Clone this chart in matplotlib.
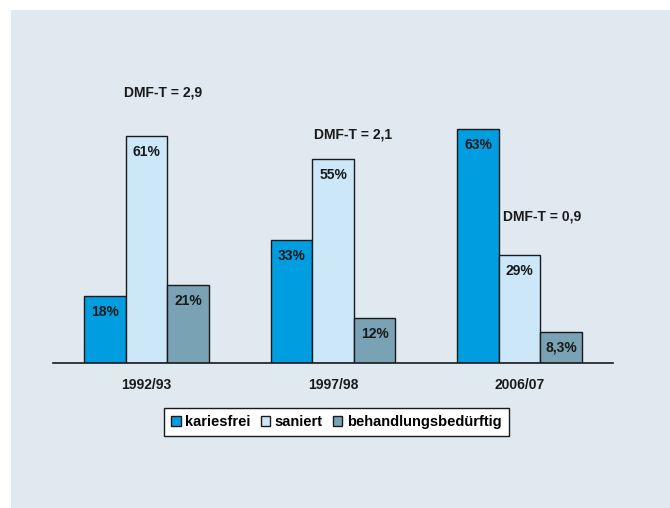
import numpy as np
import matplotlib
matplotlib.use("Agg")
import matplotlib.pyplot as plt
from matplotlib.patches import Rectangle

plt.rcParams["font.family"] = ["Liberation Sans", "DejaVu Sans"]
plt.rcParams["font.weight"] = "bold"

periods = ["1992/93", "1997/98", "2006/07"]
series = ["kariesfrei", "saniert", "behandlungsbedürftig"]
kariesfrei = [18, 33, 63]
saniert = [61, 55, 29]
behandlung = [21, 12, 8.3]
bar_labels = [["18%", "33%", "63%"], ["61%", "55%", "29%"], ["21%", "12%", "8,3%"]]
dmft = ["DMF-T = 2,9", "DMF-T = 2,1", "DMF-T = 0,9"]
# annotation anchor points in data coords (x: category axis, y: percent)
dmft_x = [0.09, 1.11, 2.12]
dmft_y = [72.8, 61.6, 39.4]

colors = ["#009EE0", "#CCE8F8", "#7AA2B5"]
bg = "#E0E8F0"

W, H = 670, 508
fig = plt.figure(figsize=(W / 100, H / 100), dpi=100)
fig.patches.append(Rectangle((11 / W, 0), 1 - 11 / W, 1 - 10 / H, transform=fig.transFigure,
                             facecolor=bg, edgecolor="none", zorder=-1))

ax = fig.add_axes([53 / W, (H - 362.7) / H, 560 / W, 259.7 / H])
ax.set_facecolor("none")

x = np.arange(len(periods))
bw = 0.223
for i, (vals, c) in enumerate(zip([kariesfrei, saniert, behandlung], colors)):
    xs = x + (i - 1) * bw
    ax.bar(xs, vals, width=bw, color=c, edgecolor="#1a1a1a", linewidth=1.0,
           label=series[i], zorder=2)
    for xv, v, lab in zip(xs, vals, bar_labels[i]):
        ax.annotate(lab, (xv, v), xytext=(0, -16), textcoords="offset pixels",
                    ha="center", va="center", fontsize=10, fontweight="bold",
                    color="#1a1a1a", zorder=3)

for dx, dy, t in zip(dmft_x, dmft_y, dmft):
    ax.text(dx, dy, t, ha="center", va="center", fontsize=10,
            fontweight="bold", color="#1a1a1a", clip_on=False)

ax.set_xlim(-0.5, 2.5)
ax.set_ylim(0, 70)
for s in ["top", "left", "right"]:
    ax.spines[s].set_visible(False)
ax.spines["bottom"].set_color("#1a1a1a")
ax.spines["bottom"].set_linewidth(1.2)
ax.set_yticks([])
ax.set_xticks(x)
ax.set_xticklabels(periods, fontsize=10, fontweight="bold", color="#1a1a1a")
ax.tick_params(axis="x", length=0, pad=11)

leg = fig.legend(loc="center", bbox_to_anchor=(336.3 / W, 1 - 422 / H), ncol=3,
                 frameon=True, fancybox=False, framealpha=1, edgecolor="#1a1a1a",
                 handlelength=0.65, handleheight=0.65,
                 handletextpad=0.3, columnspacing=0.7, borderpad=0.5,
                 borderaxespad=0, prop={"weight": "bold", "size": 10.5})
leg.get_frame().set_linewidth(1.0)

fig.savefig("out.png", dpi=100)
